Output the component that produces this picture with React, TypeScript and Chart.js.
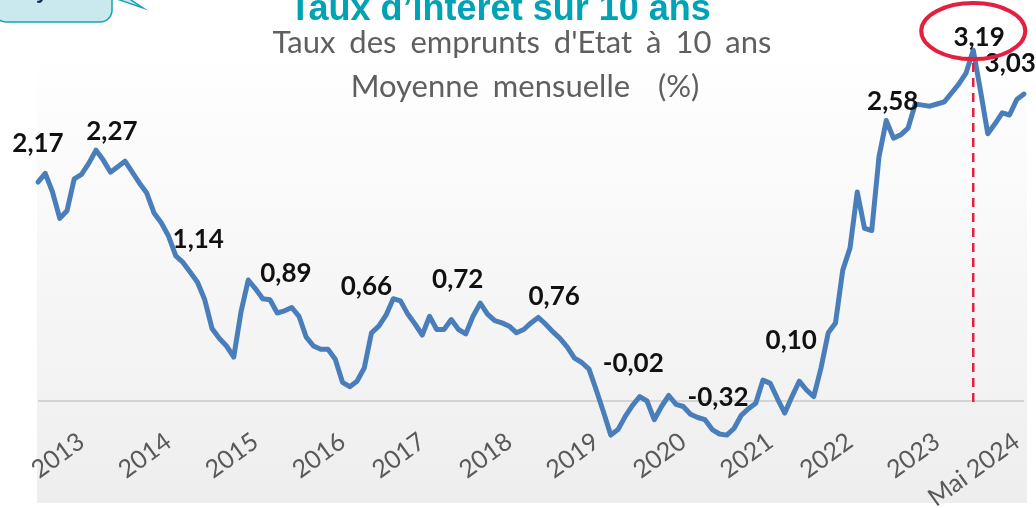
import React, { useEffect, useRef } from 'react';
import { Chart, registerables } from 'chart.js';

Chart.register(...registerables);

// ---- Data ----
const startYear = 2013;
// Monthly average of the 10-year government bond rate (%), Jan 2013 .. May 2024
const rates = [
  1.99, 2.07, 1.90, 1.66, 1.73, 2.02, 2.06, 2.16, 2.28, 2.19, 2.08, 2.13,
  2.18, 2.08, 1.98, 1.89, 1.71, 1.62, 1.50, 1.32, 1.26, 1.17, 1.08, 0.92,
  0.66, 0.57, 0.50, 0.40, 0.81, 1.10, 1.02, 0.93, 0.92, 0.80, 0.82, 0.85,
  0.77, 0.58, 0.50, 0.47, 0.47, 0.38, 0.17, 0.13, 0.18, 0.30, 0.62, 0.68,
  0.78, 0.93, 0.91, 0.79, 0.70, 0.60, 0.77, 0.65, 0.65, 0.74, 0.65, 0.61,
  0.77, 0.89, 0.79, 0.73, 0.71, 0.68, 0.62, 0.65, 0.71, 0.76, 0.70, 0.63,
  0.57, 0.49, 0.39, 0.35, 0.29, 0.10, -0.10, -0.31, -0.26, -0.14, -0.04, 0.04,
  0.00, -0.17, -0.05, 0.05, -0.03, -0.05, -0.12, -0.15, -0.17, -0.26, -0.30, -0.31,
  -0.25, -0.13, -0.07, -0.02, 0.19, 0.16, 0.02, -0.11, 0.04, 0.18, 0.10, 0.04,
  0.30, 0.62, 0.71, 1.19, 1.39, 1.90, 1.57, 1.55, 2.22, 2.55, 2.39, 2.42,
  2.48, 2.70, 2.69, 2.68, 2.70, 2.72, 2.80, 2.88, 2.98, 3.19, 2.82, 2.43,
  2.52, 2.62, 2.60, 2.74, 2.79,
];
const months = rates.map((_, i) => `${startYear + Math.floor(i / 12)}-${String((i % 12) + 1).padStart(2, '0')}`);

// x-axis tick labels and the month index they sit on
const tickLabels = ['2013', '2014', '2015', '2016', '2017', '2018', '2019', '2020', '2021', '2022', '2023', 'Mai 2024'];
const tickMonthIndex = [6, 18, 30, 42, 53, 65, 77, 89, 101, 112, 124, 135];

// value annotations (text, month index, level in %)
const noteTexts = ['2,17', '2,27', '1,14', '0,89', '0,66', '0,72', '0,76', '-0,02', '-0,32', '0,10', '2,58', '3,19', '3,03'];
const noteMonth = [0, 10.2, 22.1, 34.2, 45.3, 57.9, 71.2, 82.1, 93.8, 103.9, 117.9, 129.8, 134.1];
const noteLevel = [2.34, 2.45, 1.47, 1.16, 1.04, 1.10, 0.95, 0.34, 0.03, 0.55, 2.72, 3.30, 3.07];
const highlightMonth = 129;

const titleText = 'Taux d\u2019intérêt sur 10 ans';
const subtitleLines = ["Taux des emprunts d'Etat à 10 ans", 'Moyenne mensuelle  (%)'];

const RED = '#e3203f';

const decorPlugin = {
  id: 'decor',
  beforeDraw(chart: any) {
    const { ctx } = chart;
    ctx.save();
    // plot background
    const g = ctx.createLinearGradient(0, 53, 0, 503);
    g.addColorStop(0, '#ffffff');
    g.addColorStop(1, '#eeeeee');
    ctx.fillStyle = g;
    ctx.fillRect(37, 53, 990, 450);

    // top-left callout box (cut off)
    ctx.fillStyle = '#c9e9ef';
    ctx.strokeStyle = '#17a2b4';
    ctx.lineWidth = 1.5;
    ctx.beginPath();
    ctx.moveTo(114, -2);
    ctx.lineTo(143, 8);
    ctx.lineTo(128, -2);
    ctx.closePath();
    ctx.fill();
    ctx.stroke();
    ctx.beginPath();
    ctx.roundRect(-6, -20, 118, 42, 12);
    ctx.fill();
    ctx.stroke();
    ctx.fillStyle = '#1f2a5a';
    ctx.font = 'bold 22px "Liberation Sans"';
    ctx.textAlign = 'left';
    ctx.textBaseline = 'alphabetic';
    ctx.fillText('y', 36, -2);

    // title
    ctx.fillStyle = '#00a3b4';
    ctx.font = 'bold 36px "Liberation Sans"';
    ctx.textAlign = 'center';
    ctx.fillText(titleText, 500, 20);

    // subtitle
    ctx.fillStyle = '#5f5f5f';
    ctx.font = '31px Lato';
    (ctx as any).wordSpacing = '6px';
    ctx.fillText(subtitleLines[0], 522, 53);
    ctx.fillText(subtitleLines[1], 525, 97);
    (ctx as any).wordSpacing = '0px';
    ctx.restore();
  },
  afterDatasetsDraw(chart: any) {
    const { ctx } = chart;
    const xs = chart.scales.x;
    const ys = chart.scales.y;
    const px = xs.getPixelForValue(highlightMonth);
    const py = ys.getPixelForValue(rates[highlightMonth]);
    const zy = ys.getPixelForValue(0);
    ctx.save();
    // dashed marker line
    ctx.strokeStyle = RED;
    ctx.lineWidth = 2.5;
    ctx.setLineDash([9, 6]);
    ctx.beginPath();
    ctx.moveTo(px, py + 13);
    ctx.lineTo(px, zy + 5);
    ctx.stroke();
    ctx.setLineDash([]);

    // annotations
    ctx.fillStyle = '#111111';
    ctx.font = 'bold 26px Lato';
    ctx.textAlign = 'center';
    ctx.textBaseline = 'middle';
    noteTexts.forEach((t, k) => {
      ctx.fillText(t, xs.getPixelForValue(noteMonth[k]), ys.getPixelForValue(noteLevel[k]));
    });

    // ellipse around the peak
    ctx.strokeStyle = RED;
    ctx.lineWidth = 4;
    ctx.beginPath();
    ctx.ellipse(px, py - 19, 52, 28, 0, 0, Math.PI * 2);
    ctx.stroke();
    ctx.restore();
  },
};

export default function App() {
  const ref = useRef<HTMLCanvasElement>(null);
  useEffect(() => {
    const chart = new Chart(ref.current as HTMLCanvasElement, {
      type: 'line',
      data: {
        labels: months,
        datasets: [
          {
            data: rates,
            borderColor: '#4a7ebb',
            borderWidth: 5,
            pointRadius: 0,
            tension: 0,
            borderJoinStyle: 'round',
            borderCapStyle: 'round',
            clip: false as any,
          },
        ],
      },
      options: {
        animation: false,
        responsive: false,
        devicePixelRatio: 1,
        layout: { padding: { left: 38, right: 12, top: 16, bottom: 0 } },
        plugins: { legend: { display: false }, tooltip: { enabled: false }, title: { display: false } },
        scales: {
          x: {
            grid: { display: false },
            border: { display: false },
            ticks: {
              autoSkip: false,
              minRotation: 36,
              maxRotation: 36,
              padding: -10,
              color: '#595959',
              font: { family: 'Lato', size: 25 },
              callback: (_v: any, index: number) => {
                const k = tickMonthIndex.indexOf(index);
                return k >= 0 ? tickLabels[k] : '';
              },
            },
            afterFit: (s: any) => {
              s.height = 79.5;
              s.paddingLeft = 0;
              s.paddingRight = 0;
            },
          },
          y: {
            min: -0.25,
            max: 3.5,
            border: { display: false },
            grid: {
              drawTicks: false,
              lineWidth: 2,
              color: (c: any) => (c.tick && c.tick.value === 0 ? '#d4d4d4' : 'rgba(0,0,0,0)'),
            },
            ticks: { display: false, stepSize: 0.25 },
            afterFit: (s: any) => {
              s.width = 0;
            },
          },
        },
      },
      plugins: [decorPlugin],
    });
    return () => chart.destroy();
  }, []);
  return (
    <div style={{ position: 'absolute', left: 0, top: 0, width: 1036, height: 508, background: '#ffffff' }}>
      <canvas ref={ref} width={1036} height={508} style={{ display: 'block', width: 1036, height: 508 }} />
    </div>
  );
}
